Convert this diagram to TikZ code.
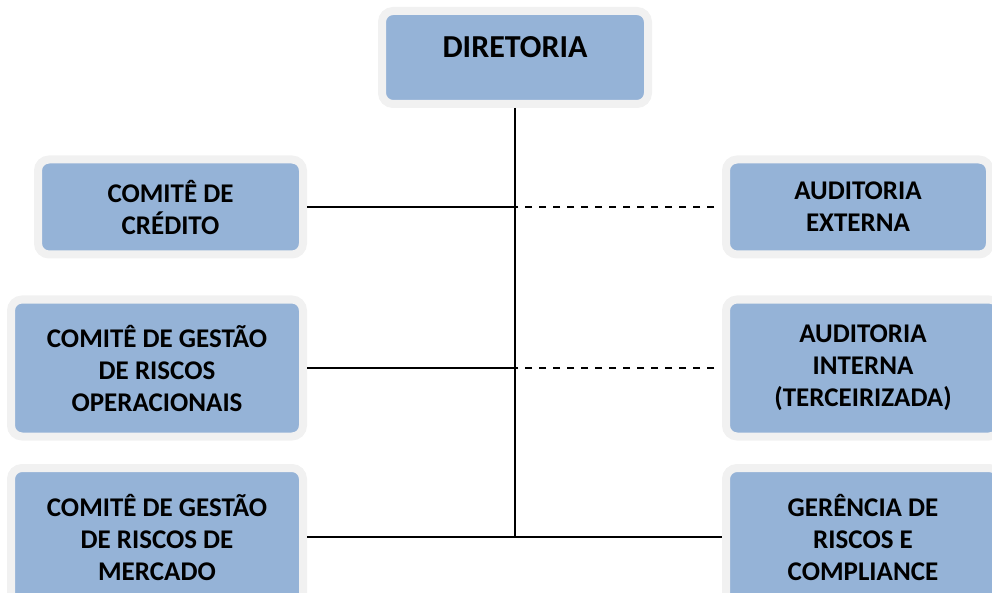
\documentclass[tikz,border=0pt]{standalone}
\usepackage{fontspec}
\setmainfont{Carlito}
\definecolor{azulcaixa}{RGB}{149,179,215}
\definecolor{cinzaborda}{RGB}{241,241,241}

\begin{document}
\begin{tikzpicture}[x=1pt,y=-1pt,
  caixa/.style={shape=rectangle, rounded corners=11pt, draw=cinzaborda, line width=8pt, fill=azulcaixa, align=center, inner sep=0pt, font=\fontsize{27}{32}\selectfont\bfseries},
  linha/.style={line width=1.8pt},
  tracejada/.style={linha, dash pattern=on 7pt off 7pt}]
\useasboundingbox (0,0) rectangle (992,593);
\node[caixa, minimum width=266pt, minimum height=93pt, font=\fontsize{32}{38}\selectfont\bfseries, text height=22pt, text depth=21pt] (dir) at (515,57.5) {DIRETORIA};

\node[caixa, minimum width=265pt, minimum height=95pt] (cred) at (170.5,207) {COMITÊ DE\\CRÉDITO};
\node[caixa, minimum width=292pt, minimum height=137pt] (oper) at (157,368) {COMITÊ DE GESTÃO\\DE RISCOS\\OPERACIONAIS};
\node[caixa, minimum width=292pt, minimum height=138pt] (merc) at (157,537) {COMITÊ DE GESTÃO\\DE RISCOS DE\\MERCADO};

\node[caixa, minimum width=264pt, minimum height=95pt] (audext) at (858,207) {AUDITORIA\\EXTERNA};
\node[caixa, minimum width=274pt, minimum height=137pt] (audint) at (863,368) {AUDITORIA\\INTERNA\\(TERCEIRIZADA)};
\node[caixa, minimum width=274pt, minimum height=138pt] (ger) at (863,537) {GERÊNCIA DE\\RISCOS E\\COMPLIANCE};

\draw[linha] (dir.south) -- (dir.south |- merc.east);
\foreach \esq/\dest in {cred/audext, oper/audint}{
  \draw[linha] (\esq.east) -- (dir.south |- \esq.east);
  \draw[tracejada, shorten <=8pt] (\dest.west) -- (dir.south |- \esq.east);
}
\draw[linha] (merc.east) -- (ger.west);
\end{tikzpicture}
\end{document}
